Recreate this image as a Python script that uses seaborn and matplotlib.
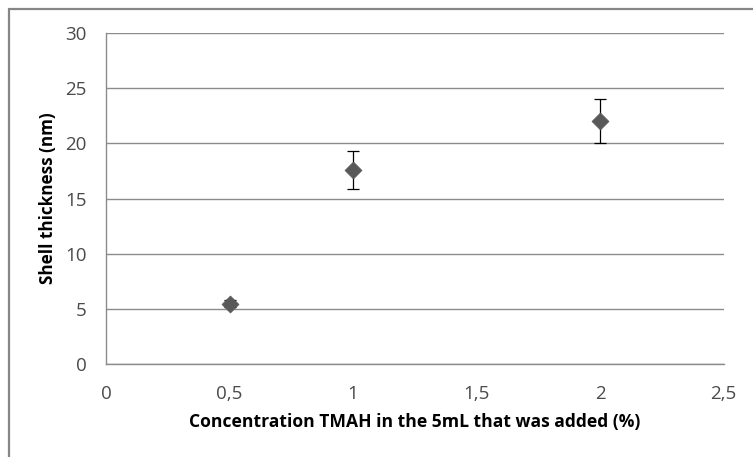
import matplotlib
matplotlib.use("Agg")
import matplotlib.pyplot as plt
import seaborn as sns
import pandas as pd
from matplotlib.lines import Line2D

# Shell thickness vs TMAH concentration
concentration = [0.5, 1.0, 2.0]
thickness = [5.5, 17.6, 22.0]
thickness_err = [0.3, 1.7, 2.0]

x_ticks = [0, 0.5, 1, 1.5, 2, 2.5]
x_tick_labels = ["0", "0,5", "1", "1,5", "2", "2,5"]
y_ticks = [0, 5, 10, 15, 20, 25, 30]
y_tick_labels = ["0", "5", "10", "15", "20", "25", "30"]

df = pd.DataFrame({"conc": concentration, "thick": thickness, "err": thickness_err})

sns.set_theme(style="white")
plt.rcParams["font.family"] = ["Open Sans", "DejaVu Sans"]

fig = plt.figure(figsize=(7.53, 4.57), dpi=100)
ax = fig.add_axes([0.1408, 0.2028, 0.961 - 0.1408, 0.9284 - 0.2028])

grid_color = "#8c8c8c"
ax.set_xlim(0, 2.5)
ax.set_ylim(0, 30)
ax.set_yticks(y_ticks)
ax.set_yticklabels(y_tick_labels)
ax.set_xticks(x_ticks)
ax.set_xticklabels(x_tick_labels)
ax.yaxis.grid(True, color=grid_color, linewidth=1.0)
ax.xaxis.grid(False)
ax.set_axisbelow(True)

for side in ["top", "right"]:
    ax.spines[side].set_visible(False)
for side in ["left", "bottom"]:
    ax.spines[side].set_color(grid_color)
    ax.spines[side].set_linewidth(1.0)

ax.tick_params(axis="both", length=0, labelsize=13.5, labelcolor="#4a4a4a")
ax.tick_params(axis="y", pad=14)
ax.tick_params(axis="x", pad=15)

ax.errorbar(df["conc"], df["thick"], yerr=df["err"], fmt="none",
            ecolor="black", elinewidth=0.9, capsize=4, capthick=0.9, zorder=2)
sns.scatterplot(data=df, x="conc", y="thick", marker="D", s=75,
                color="#595959", edgecolor="#595959", linewidth=0.5, ax=ax, zorder=3)

ax.set_xlabel("Concentration TMAH in the 5mL that was added (%)",
              fontsize=12.6, fontweight="bold", color="black", labelpad=7)
ax.set_ylabel("Shell thickness (nm)", fontsize=12.3, fontweight="bold",
              color="black", labelpad=6)

# chart frame (left and top edges)
W, H = 753, 457
frame_kw = dict(color="#868686", linewidth=1.6, transform=fig.transFigure)
fig.add_artist(Line2D([8.5 / W, 8.5 / W], [0, 1 - 8.5 / H], **frame_kw))
fig.add_artist(Line2D([8.5 / W, 1], [1 - 8.5 / H, 1 - 8.5 / H], **frame_kw))

fig.savefig("out.png", dpi=100)
